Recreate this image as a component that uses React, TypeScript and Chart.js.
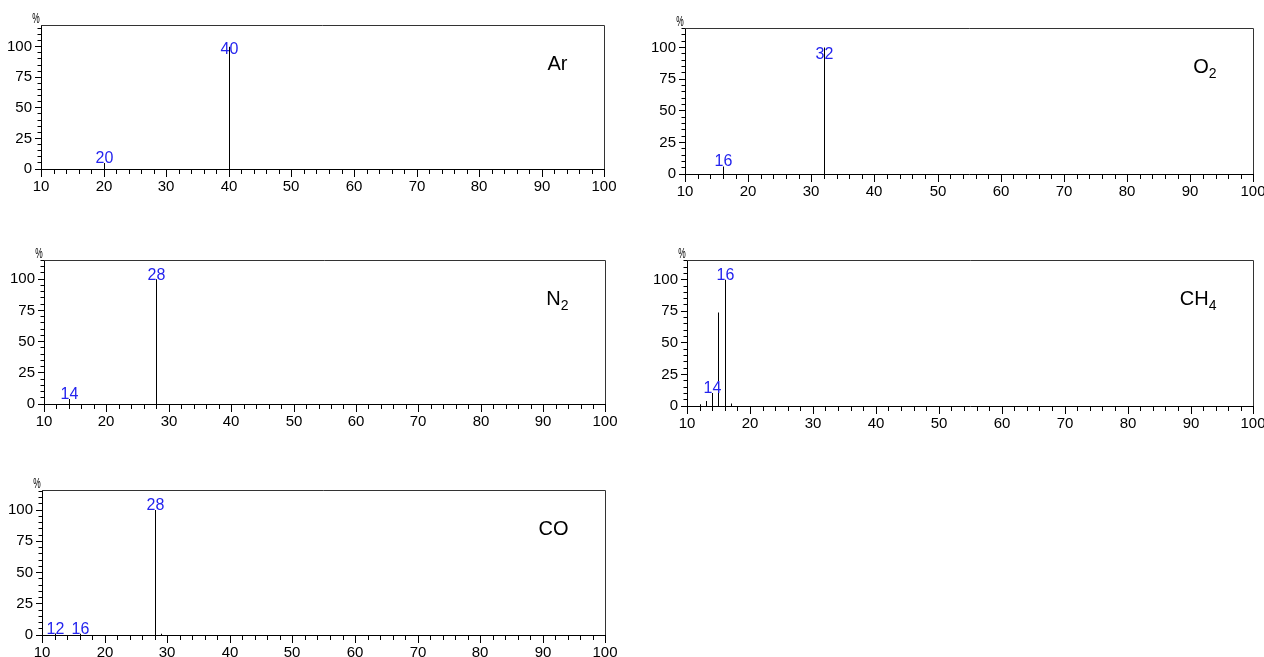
import React, { useEffect, useRef } from "react";
import { Chart, registerables } from "chart.js";

Chart.register(...registerables);

// ---- data (m/z, relative intensity %) ----
const MZ_MIN = 10;
const MZ_MAX = 100;
const mzTickStep = 10;
const intensityTickStep = 25;

const arMz = [20, 40];
const arIntensity = [5, 100];
const arPeakLabels = [20, 40];

const o2Mz = [16, 32];
const o2Intensity = [6, 100];
const o2PeakLabels = [16, 32];

const n2Mz = [14, 28];
const n2Intensity = [4, 100];
const n2PeakLabels = [14, 28];

const ch4Mz = [12, 13, 14, 15, 16, 17];
const ch4Intensity = [1.3, 4, 10.3, 74, 100, 2];
const ch4PeakLabels = [14, 16];

const coMz = [12, 16, 28, 29];
const coIntensity = [1.2, 1, 100, 1];
const coPeakLabels = [12, 16, 28];

// ---- panel layout / style ----
type PanelDef = {
  formula: string;
  sub: string;
  mz: number[];
  intensity: number[];
  peakLabels: number[];
  ymax: number;
  box: [number, number, number, number]; // left, top, right, bottom of plot area (page px)
  labelTopGap: number;
};

const panels: PanelDef[] = [
  { formula: "Ar", sub: "", mz: arMz, intensity: arIntensity, peakLabels: arPeakLabels, ymax: 117.7, box: [41, 25, 606, 169], labelTopGap: 18 },
  { formula: "O", sub: "2", mz: o2Mz, intensity: o2Intensity, peakLabels: o2PeakLabels, ymax: 115.4, box: [685, 28, 1255, 174], labelTopGap: 20 },
  { formula: "N", sub: "2", mz: n2Mz, intensity: n2Intensity, peakLabels: n2PeakLabels, ymax: 115.4, box: [44, 260, 607, 404], labelTopGap: 9 },
  { formula: "CH", sub: "4", mz: ch4Mz, intensity: ch4Intensity, peakLabels: ch4PeakLabels, ymax: 115.6, box: [687, 260, 1255, 406], labelTopGap: 9 },
  { formula: "CO", sub: "", mz: coMz, intensity: coIntensity, peakLabels: coPeakLabels, ymax: 116, box: [42, 490, 607, 635], labelTopGap: 9 },
];

const NARROW = '"Liberation Sans Narrow", "Arial Narrow", "Liberation Sans", Arial, sans-serif';
const SANS = '"Liberation Sans", Arial, sans-serif';
const PAD_L = 50;
const PAD_T = 20;
const PAD_R = 20;
const PAD_B = 30;

const align = (v: number) => Math.round(v - 0.5) + 0.5;

function decorPlugin(p: PanelDef) {
  return {
    id: "decor",
    beforeDatasetsDraw(chart: any) {
      chart.ctx.save();
      chart.ctx.translate(0.5, 0);
    },
    afterDatasetsDraw(chart: any) {
      chart.ctx.restore();
    },
    afterDraw(chart: any) {
      const { ctx, chartArea: a, scales } = chart;
      const xs = scales.x;
      const ys = scales.y;
      ctx.save();
      // tick marks
      ctx.strokeStyle = "#000";
      ctx.lineWidth = 1;
      ctx.beginPath();
      for (let v = MZ_MIN; v <= MZ_MAX; v += 2) {
        const px = Math.round(xs.getPixelForValue(v)) + 0.5;
        const len = v % 10 === 0 ? 8 : 5;
        ctx.moveTo(px, a.bottom);
        ctx.lineTo(px, a.bottom + len);
      }
      for (let v = 0; v <= p.ymax; v += 5) {
        const py = align(ys.getPixelForValue(v));
        const len = v % 25 === 0 ? 6 : 3.5;
        ctx.moveTo(a.left - len, py);
        ctx.lineTo(a.left, py);
      }
      ctx.stroke();
      // frame top / right
      ctx.strokeStyle = "#333";
      ctx.beginPath();
      ctx.moveTo(a.left, align(a.top));
      ctx.lineTo(align(a.right), align(a.top));
      ctx.lineTo(align(a.right), a.bottom);
      ctx.stroke();
      // percent sign
      ctx.save();
      ctx.translate(a.left - 5, a.top - 6);
      ctx.scale(0.6, 1);
      ctx.fillStyle = "#000";
      ctx.font = "14px " + NARROW;
      ctx.textAlign = "center";
      ctx.textBaseline = "middle";
      ctx.fillText("%", 0, 0);
      ctx.restore();
      // peak labels
      ctx.fillStyle = "#2424ee";
      ctx.font = "16px " + NARROW;
      ctx.textAlign = "center";
      ctx.textBaseline = "alphabetic";
      p.peakLabels.forEach((m) => {
        const i = p.mz.indexOf(m);
        const px = xs.getPixelForValue(m) + 0.5;
        const top = ys.getPixelForValue(p.intensity[i]);
        const base = Math.max(top, a.top + p.labelTopGap + 11);
        ctx.fillText(String(m), px, base);
      });
      // compound name
      ctx.fillStyle = "#000";
      ctx.textAlign = "left";
      const subFont = "14px " + SANS;
      const mainFont = "20px " + SANS;
      ctx.font = subFont;
      const sw = p.sub ? ctx.measureText(p.sub).width : 0;
      ctx.font = mainFont;
      const mw = ctx.measureText(p.formula).width;
      const right = a.right - 37;
      const base = a.top + 45;
      ctx.fillText(p.formula, right - sw - mw, base);
      if (p.sub) {
        ctx.font = subFont;
        ctx.fillText(p.sub, right - sw, base + 5);
      }
      ctx.restore();
    },
  };
}

function Panel({ p }: { p: PanelDef }) {
  const ref = useRef<HTMLCanvasElement | null>(null);
  const [L, T, R, B] = p.box;
  const w = R - L + PAD_L + PAD_R;
  const h = B - T + PAD_T + PAD_B;

  useEffect(() => {
    if (!ref.current) return;
    const tickFont = { family: NARROW, size: 15 };
    const chart = new Chart(ref.current, {
      type: "bar",
      data: {
        datasets: [
          {
            data: p.mz.map((m, i) => ({ x: m, y: p.intensity[i] })),
            backgroundColor: "#000",
            borderWidth: 0,
            barThickness: 1,
            inflateAmount: 0,
            grouped: false,
          } as any,
        ],
      },
      options: {
        responsive: false,
        maintainAspectRatio: false,
        animation: false,
        events: [],
        layout: { padding: { left: 0, top: PAD_T, right: PAD_R, bottom: 0 } },
        plugins: { legend: { display: false }, tooltip: { enabled: false }, title: { display: false } },
        scales: {
          x: {
            type: "linear",
            offset: false,
            alignToPixels: true,
            min: MZ_MIN,
            max: MZ_MAX,
            ticks: { stepSize: mzTickStep, padding: 9, color: "#000", font: tickFont, maxRotation: 0, autoSkip: false },
            grid: { display: false, drawTicks: false },
            border: { display: true, color: "#000", width: 1 },
            afterFit: (s: any) => {
              s.height = PAD_B;
            },
          },
          y: {
            type: "linear",
            min: 0,
            max: p.ymax,
            ticks: { stepSize: intensityTickStep, includeBounds: false, padding: 9, color: "#000", font: tickFont },
            grid: { display: false, drawTicks: false },
            border: { display: true, color: "#000", width: 1 },
            afterFit: (s: any) => {
              s.width = PAD_L;
            },
          },
        },
      } as any,
      plugins: [decorPlugin(p)],
    });
    return () => chart.destroy();
  }, [p]);

  return (
    <canvas
      ref={ref}
      width={w}
      height={h}
      style={{ position: "absolute", left: L - PAD_L, top: T - PAD_T, width: w, height: h }}
    />
  );
}

export default function App() {
  return (
    <div
      style={{
        position: "fixed",
        left: 0,
        top: 0,
        width: 1264,
        height: 657,
        overflow: "hidden",
        background: "#fff",
      }}
    >
      {panels.map((p, i) => (
        <Panel key={i} p={p} />
      ))}
    </div>
  );
}
